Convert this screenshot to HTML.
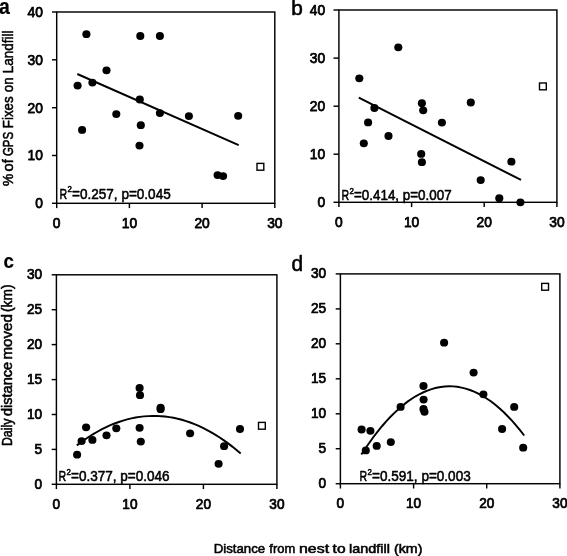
<!DOCTYPE html>
<html lang="en"><head><meta charset="utf-8"><title>Figure</title>
<style>html,body{margin:0;padding:0;background:#fff;}svg{display:block;opacity:0.999;will-change:transform;}</style>
</head><body>
<svg width="567" height="556" viewBox="0 0 567 556" font-family='"Liberation Sans", sans-serif' fill="#000">
<style>text{stroke:#000;stroke-width:0.55px;stroke-linejoin:round}</style>
<rect width="567" height="556" fill="#fff"/>
<g stroke="#000" stroke-width="1.45" fill="none">
<rect x="56.7" y="12.0" width="218.1" height="191.3"/>
<line x1="52.0" y1="203.3" x2="56.7" y2="203.3"/>
<line x1="52.0" y1="155.5" x2="56.7" y2="155.5"/>
<line x1="52.0" y1="107.7" x2="56.7" y2="107.7"/>
<line x1="52.0" y1="59.8" x2="56.7" y2="59.8"/>
<line x1="52.0" y1="12.0" x2="56.7" y2="12.0"/>
<line x1="56.7" y1="203.3" x2="56.7" y2="208.1"/>
<line x1="129.4" y1="203.3" x2="129.4" y2="208.1"/>
<line x1="202.1" y1="203.3" x2="202.1" y2="208.1"/>
<line x1="274.8" y1="203.3" x2="274.8" y2="208.1"/>
</g>
<text transform="translate(42.9,208.2) scale(1.0,1)" font-size="13.8" text-anchor="end" style="stroke-width:0.75px">0</text>
<text transform="translate(42.9,160.4) scale(1.0,1)" font-size="13.8" text-anchor="end" style="stroke-width:0.75px">10</text>
<text transform="translate(42.9,112.6) scale(1.0,1)" font-size="13.8" text-anchor="end" style="stroke-width:0.75px">20</text>
<text transform="translate(42.9,64.7) scale(1.0,1)" font-size="13.8" text-anchor="end" style="stroke-width:0.75px">30</text>
<text transform="translate(42.9,16.9) scale(1.0,1)" font-size="13.8" text-anchor="end" style="stroke-width:0.75px">40</text>
<text transform="translate(56.7,228.0) scale(1.0,1)" font-size="13.8" text-anchor="middle" style="stroke-width:0.75px">0</text>
<text transform="translate(129.4,228.0) scale(1.0,1)" font-size="13.8" text-anchor="middle" style="stroke-width:0.75px">10</text>
<text transform="translate(202.1,228.0) scale(1.0,1)" font-size="13.8" text-anchor="middle" style="stroke-width:0.75px">20</text>
<text transform="translate(274.8,228.0) scale(1.0,1)" font-size="13.8" text-anchor="middle" style="stroke-width:0.75px">30</text>
<g stroke="#000" stroke-width="1.45" fill="none">
<rect x="338.9" y="10.0" width="218.0" height="192.3"/>
<line x1="333.5" y1="202.3" x2="338.9" y2="202.3"/>
<line x1="333.5" y1="154.2" x2="338.9" y2="154.2"/>
<line x1="333.5" y1="106.2" x2="338.9" y2="106.2"/>
<line x1="333.5" y1="58.1" x2="338.9" y2="58.1"/>
<line x1="333.5" y1="10.0" x2="338.9" y2="10.0"/>
<line x1="338.9" y1="202.3" x2="338.9" y2="207.1"/>
<line x1="411.6" y1="202.3" x2="411.6" y2="207.1"/>
<line x1="484.2" y1="202.3" x2="484.2" y2="207.1"/>
<line x1="556.9" y1="202.3" x2="556.9" y2="207.1"/>
</g>
<text transform="translate(325.1,207.2) scale(1.0,1)" font-size="13.8" text-anchor="end" style="stroke-width:0.75px">0</text>
<text transform="translate(325.1,159.1) scale(1.0,1)" font-size="13.8" text-anchor="end" style="stroke-width:0.75px">10</text>
<text transform="translate(325.1,111.1) scale(1.0,1)" font-size="13.8" text-anchor="end" style="stroke-width:0.75px">20</text>
<text transform="translate(325.1,63.0) scale(1.0,1)" font-size="13.8" text-anchor="end" style="stroke-width:0.75px">30</text>
<text transform="translate(325.1,14.9) scale(1.0,1)" font-size="13.8" text-anchor="end" style="stroke-width:0.75px">40</text>
<text transform="translate(338.9,227.0) scale(1.0,1)" font-size="13.8" text-anchor="middle" style="stroke-width:0.75px">0</text>
<text transform="translate(411.6,227.0) scale(1.0,1)" font-size="13.8" text-anchor="middle" style="stroke-width:0.75px">10</text>
<text transform="translate(484.2,227.0) scale(1.0,1)" font-size="13.8" text-anchor="middle" style="stroke-width:0.75px">20</text>
<text transform="translate(556.9,227.0) scale(1.0,1)" font-size="13.8" text-anchor="middle" style="stroke-width:0.75px">30</text>
<g stroke="#000" stroke-width="1.45" fill="none">
<rect x="56.4" y="274.8" width="220.5" height="209.5"/>
<line x1="51.7" y1="484.3" x2="56.4" y2="484.3"/>
<line x1="51.7" y1="449.4" x2="56.4" y2="449.4"/>
<line x1="51.7" y1="414.5" x2="56.4" y2="414.5"/>
<line x1="51.7" y1="379.6" x2="56.4" y2="379.6"/>
<line x1="51.7" y1="344.6" x2="56.4" y2="344.6"/>
<line x1="51.7" y1="309.7" x2="56.4" y2="309.7"/>
<line x1="51.7" y1="274.8" x2="56.4" y2="274.8"/>
<line x1="56.4" y1="484.3" x2="56.4" y2="489.1"/>
<line x1="129.9" y1="484.3" x2="129.9" y2="489.1"/>
<line x1="203.4" y1="484.3" x2="203.4" y2="489.1"/>
<line x1="276.9" y1="484.3" x2="276.9" y2="489.1"/>
</g>
<text transform="translate(42.1,488.8) scale(0.98,1)" font-size="13.9" text-anchor="end" style="stroke-width:0.75px">0</text>
<text transform="translate(42.1,453.9) scale(0.98,1)" font-size="13.9" text-anchor="end" style="stroke-width:0.75px">5</text>
<text transform="translate(42.1,419.0) scale(0.98,1)" font-size="13.9" text-anchor="end" style="stroke-width:0.75px">10</text>
<text transform="translate(42.1,384.1) scale(0.98,1)" font-size="13.9" text-anchor="end" style="stroke-width:0.75px">15</text>
<text transform="translate(42.1,349.1) scale(0.98,1)" font-size="13.9" text-anchor="end" style="stroke-width:0.75px">20</text>
<text transform="translate(42.1,314.2) scale(0.98,1)" font-size="13.9" text-anchor="end" style="stroke-width:0.75px">25</text>
<text transform="translate(42.1,279.3) scale(0.98,1)" font-size="13.9" text-anchor="end" style="stroke-width:0.75px">30</text>
<text transform="translate(56.4,509.0) scale(0.98,1)" font-size="13.9" text-anchor="middle" style="stroke-width:0.75px">0</text>
<text transform="translate(129.9,509.0) scale(0.98,1)" font-size="13.9" text-anchor="middle" style="stroke-width:0.75px">10</text>
<text transform="translate(203.4,509.0) scale(0.98,1)" font-size="13.9" text-anchor="middle" style="stroke-width:0.75px">20</text>
<text transform="translate(276.9,509.0) scale(0.98,1)" font-size="13.9" text-anchor="middle" style="stroke-width:0.75px">30</text>
<g stroke="#000" stroke-width="1.45" fill="none">
<rect x="340.4" y="273.9" width="219.5" height="209.8"/>
<line x1="335.7" y1="483.7" x2="340.4" y2="483.7"/>
<line x1="335.7" y1="448.7" x2="340.4" y2="448.7"/>
<line x1="335.7" y1="413.8" x2="340.4" y2="413.8"/>
<line x1="335.7" y1="378.8" x2="340.4" y2="378.8"/>
<line x1="335.7" y1="343.8" x2="340.4" y2="343.8"/>
<line x1="335.7" y1="308.9" x2="340.4" y2="308.9"/>
<line x1="335.7" y1="273.9" x2="340.4" y2="273.9"/>
<line x1="340.4" y1="483.7" x2="340.4" y2="488.5"/>
<line x1="413.6" y1="483.7" x2="413.6" y2="488.5"/>
<line x1="486.7" y1="483.7" x2="486.7" y2="488.5"/>
<line x1="559.9" y1="483.7" x2="559.9" y2="488.5"/>
</g>
<text transform="translate(326.1,488.2) scale(0.98,1)" font-size="13.9" text-anchor="end" style="stroke-width:0.75px">0</text>
<text transform="translate(326.1,453.2) scale(0.98,1)" font-size="13.9" text-anchor="end" style="stroke-width:0.75px">5</text>
<text transform="translate(326.1,418.3) scale(0.98,1)" font-size="13.9" text-anchor="end" style="stroke-width:0.75px">10</text>
<text transform="translate(326.1,383.3) scale(0.98,1)" font-size="13.9" text-anchor="end" style="stroke-width:0.75px">15</text>
<text transform="translate(326.1,348.3) scale(0.98,1)" font-size="13.9" text-anchor="end" style="stroke-width:0.75px">20</text>
<text transform="translate(326.1,313.4) scale(0.98,1)" font-size="13.9" text-anchor="end" style="stroke-width:0.75px">25</text>
<text transform="translate(326.1,278.4) scale(0.98,1)" font-size="13.9" text-anchor="end" style="stroke-width:0.75px">30</text>
<text transform="translate(340.4,508.4) scale(0.98,1)" font-size="13.9" text-anchor="middle" style="stroke-width:0.75px">0</text>
<text transform="translate(413.6,508.4) scale(0.98,1)" font-size="13.9" text-anchor="middle" style="stroke-width:0.75px">10</text>
<text transform="translate(486.7,508.4) scale(0.98,1)" font-size="13.9" text-anchor="middle" style="stroke-width:0.75px">20</text>
<text transform="translate(559.9,508.4) scale(0.98,1)" font-size="13.9" text-anchor="middle" style="stroke-width:0.75px">30</text>
<ellipse cx="86.4" cy="34.2" rx="4.05" ry="3.9"/>
<ellipse cx="140.3" cy="36.0" rx="4.05" ry="3.9"/>
<ellipse cx="159.9" cy="36.0" rx="4.05" ry="3.9"/>
<ellipse cx="77.6" cy="85.6" rx="4.05" ry="3.9"/>
<ellipse cx="92.4" cy="82.6" rx="4.05" ry="3.9"/>
<ellipse cx="106.5" cy="70.3" rx="4.05" ry="3.9"/>
<ellipse cx="116.3" cy="114.1" rx="4.05" ry="3.9"/>
<ellipse cx="82.1" cy="129.9" rx="4.05" ry="3.9"/>
<ellipse cx="139.8" cy="99.5" rx="4.05" ry="3.9"/>
<ellipse cx="159.9" cy="113.1" rx="4.05" ry="3.9"/>
<ellipse cx="188.9" cy="116.1" rx="4.05" ry="3.9"/>
<ellipse cx="238.2" cy="115.8" rx="4.05" ry="3.9"/>
<ellipse cx="140.8" cy="125.2" rx="4.05" ry="3.9"/>
<ellipse cx="139.5" cy="145.6" rx="4.05" ry="3.9"/>
<ellipse cx="217.6" cy="175.1" rx="4.05" ry="3.9"/>
<ellipse cx="223.1" cy="176.1" rx="4.05" ry="3.9"/>
<rect x="257.0" y="163.4" width="6.8" height="6.8" fill="#fff" stroke="#000" stroke-width="1.4"/>
<ellipse cx="398.3" cy="47.3" rx="4.05" ry="3.9"/>
<ellipse cx="359.3" cy="78.3" rx="4.05" ry="3.9"/>
<ellipse cx="374.4" cy="108.0" rx="4.05" ry="3.9"/>
<ellipse cx="368.1" cy="122.4" rx="4.05" ry="3.9"/>
<ellipse cx="388.5" cy="136.0" rx="4.05" ry="3.9"/>
<ellipse cx="363.8" cy="143.3" rx="4.05" ry="3.9"/>
<ellipse cx="421.9" cy="103.2" rx="4.05" ry="3.9"/>
<ellipse cx="423.2" cy="110.3" rx="4.05" ry="3.9"/>
<ellipse cx="421.2" cy="153.9" rx="4.05" ry="3.9"/>
<ellipse cx="421.9" cy="162.2" rx="4.05" ry="3.9"/>
<ellipse cx="441.9" cy="122.6" rx="4.05" ry="3.9"/>
<ellipse cx="470.8" cy="102.5" rx="4.05" ry="3.9"/>
<ellipse cx="480.7" cy="180.1" rx="4.05" ry="3.9"/>
<ellipse cx="499.3" cy="198.2" rx="4.05" ry="3.9"/>
<ellipse cx="511.4" cy="161.7" rx="4.05" ry="3.9"/>
<ellipse cx="520.4" cy="202.3" rx="4.05" ry="3.9"/>
<rect x="539.5" y="83.0" width="6.8" height="6.8" fill="#fff" stroke="#000" stroke-width="1.4"/>
<ellipse cx="77.1" cy="454.7" rx="4.05" ry="3.9"/>
<ellipse cx="81.6" cy="441.1" rx="4.05" ry="3.9"/>
<ellipse cx="86.1" cy="427.3" rx="4.05" ry="3.9"/>
<ellipse cx="92.4" cy="439.9" rx="4.05" ry="3.9"/>
<ellipse cx="106.5" cy="435.3" rx="4.05" ry="3.9"/>
<ellipse cx="116.3" cy="428.3" rx="4.05" ry="3.9"/>
<ellipse cx="139.6" cy="388.0" rx="4.05" ry="3.9"/>
<ellipse cx="140" cy="395.2" rx="4.05" ry="3.9"/>
<ellipse cx="139.6" cy="427.8" rx="4.05" ry="3.9"/>
<ellipse cx="140.8" cy="441.6" rx="4.05" ry="3.9"/>
<ellipse cx="160.6" cy="407.6" rx="4.05" ry="3.9"/>
<ellipse cx="160.6" cy="409.2" rx="4.05" ry="3.9"/>
<ellipse cx="190.1" cy="433.3" rx="4.05" ry="3.9"/>
<ellipse cx="218.6" cy="463.8" rx="4.05" ry="3.9"/>
<ellipse cx="224.1" cy="446.2" rx="4.05" ry="3.9"/>
<ellipse cx="240" cy="429" rx="4.05" ry="3.9"/>
<rect x="258.5" y="422.4" width="6.8" height="6.8" fill="#fff" stroke="#000" stroke-width="1.4"/>
<ellipse cx="361.6" cy="429.5" rx="4.05" ry="3.9"/>
<ellipse cx="370.4" cy="430.8" rx="4.05" ry="3.9"/>
<ellipse cx="365.8" cy="450.4" rx="4.05" ry="3.9"/>
<ellipse cx="376.7" cy="445.9" rx="4.05" ry="3.9"/>
<ellipse cx="390.8" cy="442.1" rx="4.05" ry="3.9"/>
<ellipse cx="400.6" cy="406.9" rx="4.05" ry="3.9"/>
<ellipse cx="423.5" cy="386" rx="4.05" ry="3.9"/>
<ellipse cx="423.6" cy="399.6" rx="4.05" ry="3.9"/>
<ellipse cx="423.5" cy="408.9" rx="4.05" ry="3.9"/>
<ellipse cx="424.5" cy="411.8" rx="4.05" ry="3.9"/>
<ellipse cx="444.1" cy="342.7" rx="4.05" ry="3.9"/>
<ellipse cx="473.6" cy="372.6" rx="4.05" ry="3.9"/>
<ellipse cx="483.4" cy="394.3" rx="4.05" ry="3.9"/>
<ellipse cx="502.1" cy="429" rx="4.05" ry="3.9"/>
<ellipse cx="514.2" cy="406.9" rx="4.05" ry="3.9"/>
<ellipse cx="523.2" cy="447.7" rx="4.05" ry="3.9"/>
<rect x="541.7" y="283.4" width="6.8" height="6.8" fill="#fff" stroke="#000" stroke-width="1.4"/>
<g stroke="#000" stroke-width="1.95" fill="none">
<path d="M77.3,74.0 L238.7,145.1"/>
<path d="M358.8,97.7 L521.0,179.9"/>
<path d="M76.8,445.4 L81.0,442.2 L85.2,439.3 L89.4,436.5 L93.6,433.9 L97.8,431.5 L102.0,429.2 L106.2,427.1 L110.4,425.2 L114.6,423.5 L118.8,422.0 L123.0,420.6 L127.2,419.4 L131.4,418.4 L135.6,417.5 L139.8,416.9 L144.0,416.4 L148.2,416.1 L152.4,415.9 L156.6,415.9 L160.9,416.2 L165.1,416.5 L169.3,417.1 L173.5,417.8 L177.7,418.7 L181.9,419.8 L186.1,421.1 L190.3,422.5 L194.5,424.2 L198.7,425.9 L202.9,427.9 L207.1,430.1 L211.3,432.4 L215.5,434.9 L219.7,437.5 L223.9,440.4 L228.1,443.4 L232.3,446.6 L236.5,450.0 L240.7,453.5"/>
<path d="M361.3,454.5 L365.5,448.2 L369.7,442.2 L373.8,436.5 L378.0,431.1 L382.2,426.0 L386.4,421.2 L390.5,416.8 L394.7,412.6 L398.9,408.7 L403.1,405.2 L407.2,401.9 L411.4,399.0 L415.6,396.3 L419.8,394.0 L424.0,392.0 L428.1,390.3 L432.3,388.9 L436.5,387.8 L440.7,387.0 L444.8,386.5 L449.0,386.3 L453.2,386.4 L457.4,386.8 L461.5,387.6 L465.7,388.6 L469.9,390.0 L474.1,391.6 L478.3,393.6 L482.4,395.9 L486.6,398.5 L490.8,401.3 L495.0,404.5 L499.1,408.0 L503.3,411.8 L507.5,416.0 L511.7,420.4 L515.8,425.1 L520.0,430.1 L524.2,435.5"/>
</g>
<text x="59.5" y="198.6" font-size="14.4" textLength="7.6" lengthAdjust="spacingAndGlyphs">R</text>
<text x="67.5" y="192.2" font-size="9.4" textLength="4.4" lengthAdjust="spacingAndGlyphs">2</text>
<text x="72.1" y="198.6" font-size="14.4" textLength="98.6" lengthAdjust="spacingAndGlyphs">=0.257, p=0.045</text>
<text x="341.4" y="200.3" font-size="14.4" textLength="7.6" lengthAdjust="spacingAndGlyphs">R</text>
<text x="349.4" y="193.9" font-size="9.4" textLength="4.4" lengthAdjust="spacingAndGlyphs">2</text>
<text x="354.0" y="200.3" font-size="14.4" textLength="97.6" lengthAdjust="spacingAndGlyphs">=0.414, p=0.007</text>
<text x="58.4" y="481.2" font-size="14.4" textLength="7.6" lengthAdjust="spacingAndGlyphs">R</text>
<text x="66.4" y="474.8" font-size="9.4" textLength="4.4" lengthAdjust="spacingAndGlyphs">2</text>
<text x="71.0" y="481.2" font-size="14.4" textLength="98.6" lengthAdjust="spacingAndGlyphs">=0.377, p=0.046</text>
<text x="359.5" y="481.2" font-size="14.4" textLength="7.6" lengthAdjust="spacingAndGlyphs">R</text>
<text x="367.5" y="474.8" font-size="9.4" textLength="4.4" lengthAdjust="spacingAndGlyphs">2</text>
<text x="372.1" y="481.2" font-size="14.4" textLength="98.6" lengthAdjust="spacingAndGlyphs">=0.591, p=0.003</text>
<text x="-1.1" y="14" font-size="21.4" font-weight="bold" style="stroke-width:0.2px" textLength="10.8" lengthAdjust="spacingAndGlyphs">a</text>
<text x="291.3" y="14.8" font-size="20.8" style="stroke-width:0.6px">b</text>
<text x="3.5" y="267.7" font-size="19.6" font-weight="bold" style="stroke-width:0.2px" textLength="10.4" lengthAdjust="spacingAndGlyphs">c</text>
<text x="291.5" y="271" font-size="21.6" style="stroke-width:0.55px" textLength="11.6" lengthAdjust="spacingAndGlyphs">d</text>
<text x="213.7" y="553.4" font-size="13.2" textLength="51.5" lengthAdjust="spacingAndGlyphs">Distance</text>
<text x="269.3" y="553.4" font-size="13.2" textLength="25.9" lengthAdjust="spacingAndGlyphs">from</text>
<text x="299.0" y="553.4" font-size="13.2" textLength="30.1" lengthAdjust="spacingAndGlyphs">nest</text>
<text x="332.6" y="553.4" font-size="13.2" textLength="13.0" lengthAdjust="spacingAndGlyphs">to</text>
<text x="349.1" y="553.4" font-size="13.2" textLength="40.9" lengthAdjust="spacingAndGlyphs">landfill</text>
<text x="394.0" y="553.4" font-size="13.2" textLength="28.4" lengthAdjust="spacingAndGlyphs">(km)</text>
<text transform="translate(13.4,186.1) rotate(-90)" font-size="14.9" textLength="12.2" lengthAdjust="spacingAndGlyphs">%</text>
<text transform="translate(13.4,171.5) rotate(-90)" font-size="14.9" textLength="12.2" lengthAdjust="spacingAndGlyphs">of</text>
<text transform="translate(13.4,156.1) rotate(-90)" font-size="14.9" textLength="24.3" lengthAdjust="spacingAndGlyphs">GPS</text>
<text transform="translate(13.4,128.2) rotate(-90)" font-size="14.9" textLength="31.8" lengthAdjust="spacingAndGlyphs">Fixes</text>
<text transform="translate(13.4,92.2) rotate(-90)" font-size="14.9" textLength="14.7" lengthAdjust="spacingAndGlyphs">on</text>
<text transform="translate(13.4,73.3) rotate(-90)" font-size="14.9" textLength="42.7" lengthAdjust="spacingAndGlyphs">Landfill</text>
<text transform="translate(11.7,446.1) rotate(-90)" font-size="14.3" textLength="27.6" lengthAdjust="spacingAndGlyphs">Daily</text>
<text transform="translate(11.7,416.1) rotate(-90)" font-size="14.3" textLength="54.3" lengthAdjust="spacingAndGlyphs">distance</text>
<text transform="translate(11.7,359.6) rotate(-90)" font-size="14.3" textLength="45.4" lengthAdjust="spacingAndGlyphs">moved</text>
<text transform="translate(11.7,312.0) rotate(-90)" font-size="14.3" textLength="27.6" lengthAdjust="spacingAndGlyphs">(km)</text>
</svg>
</body></html>
